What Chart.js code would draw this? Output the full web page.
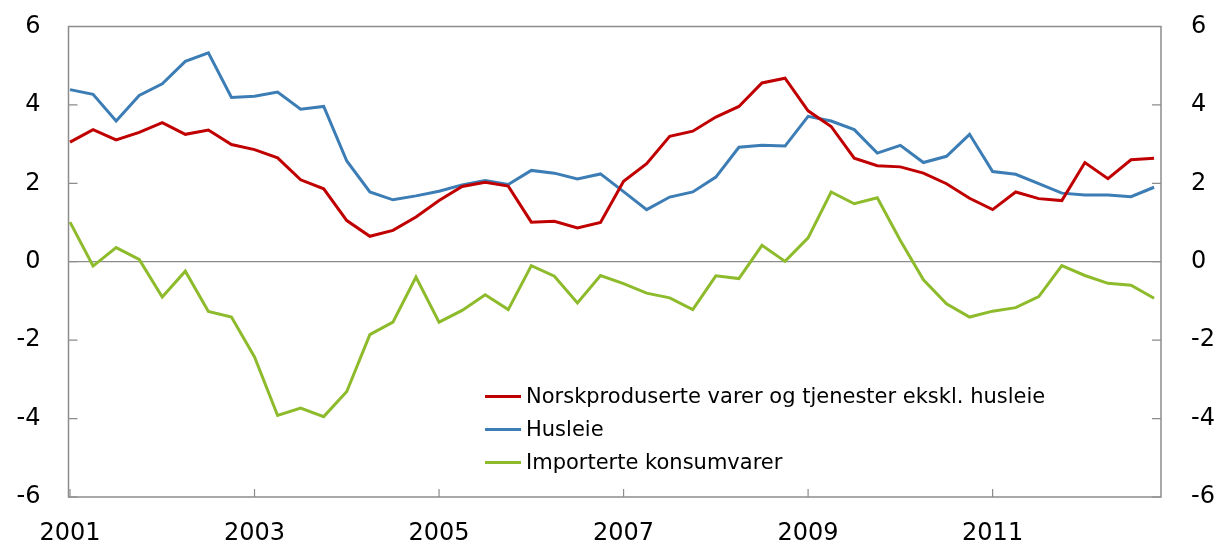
<!DOCTYPE html>
<html>
<head>
<meta charset="utf-8">
<script src="https://cdn.jsdelivr.net/npm/chart.js@4/dist/chart.umd.min.js"></script>
<style>
  html, body { margin: 0; padding: 0; background: #ffffff; }
  #wrap { width: 1228px; height: 541px; position: relative; }
</style>
</head>
<body>
<div id="wrap"><canvas id="c" width="1228" height="541"></canvas></div>
<script>
// Quarterly observations, 2001 Q1 – 2012 Q4 (index 0..47)
const startYear = 2001;
const quarterIndex = Array.from({length: 48}, (_, i) => i);
const yearTickLabels = ['2001', '2003', '2005', '2007', '2009', '2011'];
const yearTickPositions = [0, 8, 16, 24, 32, 40];
const yTickValues = [-6, -4, -2, 0, 2, 4, 6];

const seriesLabels = [
  'Norskproduserte varer og tjenester ekskl. husleie',
  'Husleie',
  'Importerte konsumvarer'
];

const norskprodusert = [
  3.05, 3.37, 3.11, 3.30, 3.55, 3.25, 3.36, 2.99, 2.86, 2.65, 2.09, 1.86, 1.05, 0.65, 0.80, 1.14,
  1.56, 1.92, 2.03, 1.93, 1.01, 1.03, 0.86, 1.00, 2.05, 2.50, 3.20, 3.33, 3.69, 3.96, 4.56, 4.68,
  3.85, 3.45, 2.64, 2.45, 2.42, 2.26, 1.99, 1.62, 1.33, 1.78, 1.61, 1.56, 2.53, 2.12, 2.60, 2.64
];
const husleie = [
  4.39, 4.27, 3.59, 4.24, 4.54, 5.11, 5.33, 4.19, 4.22, 4.33, 3.89, 3.96, 2.57, 1.78, 1.58, 1.68,
  1.80, 1.96, 2.07, 1.97, 2.33, 2.26, 2.11, 2.24, 1.79, 1.33, 1.65, 1.78, 2.16, 2.92, 2.97, 2.95,
  3.71, 3.59, 3.37, 2.77, 2.97, 2.53, 2.69, 3.25, 2.30, 2.23, 1.99, 1.75, 1.70, 1.70, 1.66, 1.90
];
const importert = [
  1.01, -0.11, 0.36, 0.06, -0.90, -0.24, -1.27, -1.41, -2.43, -3.92, -3.73, -3.95, -3.31, -1.86, -1.54, -0.39,
  -1.54, -1.24, -0.84, -1.22, -0.10, -0.37, -1.05, -0.35, -0.56, -0.80, -0.92, -1.22, -0.36, -0.43, 0.42, 0.01,
  0.61, 1.78, 1.48, 1.63, 0.54, -0.46, -1.07, -1.41, -1.26, -1.17, -0.89, -0.10, -0.35, -0.55, -0.60, -0.93
];

const colors = ['#C00000', '#3B7DB4', '#8DBB2C'];
const axisColor = '#8C8C8C';
const FONT = "'DejaVu Sans', sans-serif";

function toPoints(arr) { return arr.map((v, i) => ({x: quarterIndex[i], y: v})); }

const frameAndLegend = {
  id: 'frameAndLegend',
  beforeDatasetsDraw(chart) {
    const {ctx, chartArea: a, scales} = chart;
    ctx.save();
    ctx.strokeStyle = axisColor;
    ctx.lineWidth = 1.5;
    ctx.strokeRect(a.left, a.top, a.right - a.left, a.bottom - a.top);
    ctx.lineWidth = 1.2;
    ctx.beginPath();
    yTickValues.forEach(v => {
      const y = scales.y.getPixelForValue(v);
      ctx.moveTo(a.left, y); ctx.lineTo(a.left + 9, y);
      ctx.moveTo(a.right, y); ctx.lineTo(a.right - 9, y);
    });
    yearTickPositions.forEach(p => {
      const x = scales.x.getPixelForValue(p);
      ctx.moveTo(x, a.bottom); ctx.lineTo(x, a.bottom - 8);
    });
    ctx.stroke();
    ctx.restore();
  },
  afterDraw(chart) {
    const {ctx} = chart;
    const x0 = 485, x1 = 521, tx = 526;
    const rows = [396.5, 429.5, 462.5];
    ctx.save();
    ctx.font = '21px ' + FONT;
    ctx.textBaseline = 'middle';
    ctx.fillStyle = '#000000';
    chart.data.datasets.forEach((ds, i) => {
      ctx.strokeStyle = ds.borderColor;
      ctx.lineWidth = 3;
      ctx.beginPath();
      ctx.moveTo(x0, rows[i]); ctx.lineTo(x1, rows[i]);
      ctx.stroke();
      ctx.fillText(ds.label, tx, rows[i] + 1);
    });
    ctx.restore();
  }
};

function fixVertical(width) {
  return function (axis) {
    axis.width = width;
    axis.paddingTop = 0;
    axis.paddingBottom = 0;
  };
}

new Chart(document.getElementById('c'), {
  type: 'line',
  data: {
    datasets: [
      {label: seriesLabels[0], data: toPoints(norskprodusert), borderColor: colors[0]},
      {label: seriesLabels[1], data: toPoints(husleie), borderColor: colors[1]},
      {label: seriesLabels[2], data: toPoints(importert), borderColor: colors[2]}
    ].map(d => Object.assign(d, {borderWidth: 3, pointRadius: 0, tension: 0, fill: false, borderJoinStyle: 'miter'}))
  },
  options: {
    responsive: false,
    animation: false,
    devicePixelRatio: 1,
    layout: {padding: {top: 26.5, left: 0, right: 0, bottom: 0}},
    plugins: {legend: {display: false}, tooltip: {enabled: false}},
    scales: {
      x: {
        type: 'linear',
        min: -0.065,
        max: 47.3,
        afterBuildTicks(axis) { axis.ticks = yearTickPositions.map(v => ({value: v})); },
        afterFit(axis) { axis.height = 44; axis.paddingLeft = 0; axis.paddingRight = 0; },
        ticks: {
          autoSkip: false,
          maxRotation: 0,
          padding: 22,
          color: '#000000',
          font: {family: FONT, size: 24},
          callback: (v) => yearTickLabels[yearTickPositions.indexOf(v)]
        },
        grid: {display: false, drawTicks: false},
        border: {display: false}
      },
      y: {
        position: 'left',
        min: -6, max: 6,
        afterBuildTicks(axis) { axis.ticks = yTickValues.map(v => ({value: v})); },
        afterFit: fixVertical(68.5),
        ticks: {padding: 28, color: '#000000', font: {family: FONT, size: 24}},
        grid: {
          drawTicks: false,
          color: (c) => (c.tick && c.tick.value === 0) ? axisColor : 'rgba(0,0,0,0)',
          lineWidth: 1.2
        },
        border: {display: false}
      },
      y2: {
        position: 'right',
        min: -6, max: 6,
        afterBuildTicks(axis) { axis.ticks = yTickValues.map(v => ({value: v})); },
        afterFit: fixVertical(67),
        ticks: {padding: 30, color: '#000000', font: {family: FONT, size: 24}},
        grid: {display: false, drawTicks: false},
        border: {display: false}
      }
    }
  },
  plugins: [frameAndLegend]
});
</script>
</body>
</html>
